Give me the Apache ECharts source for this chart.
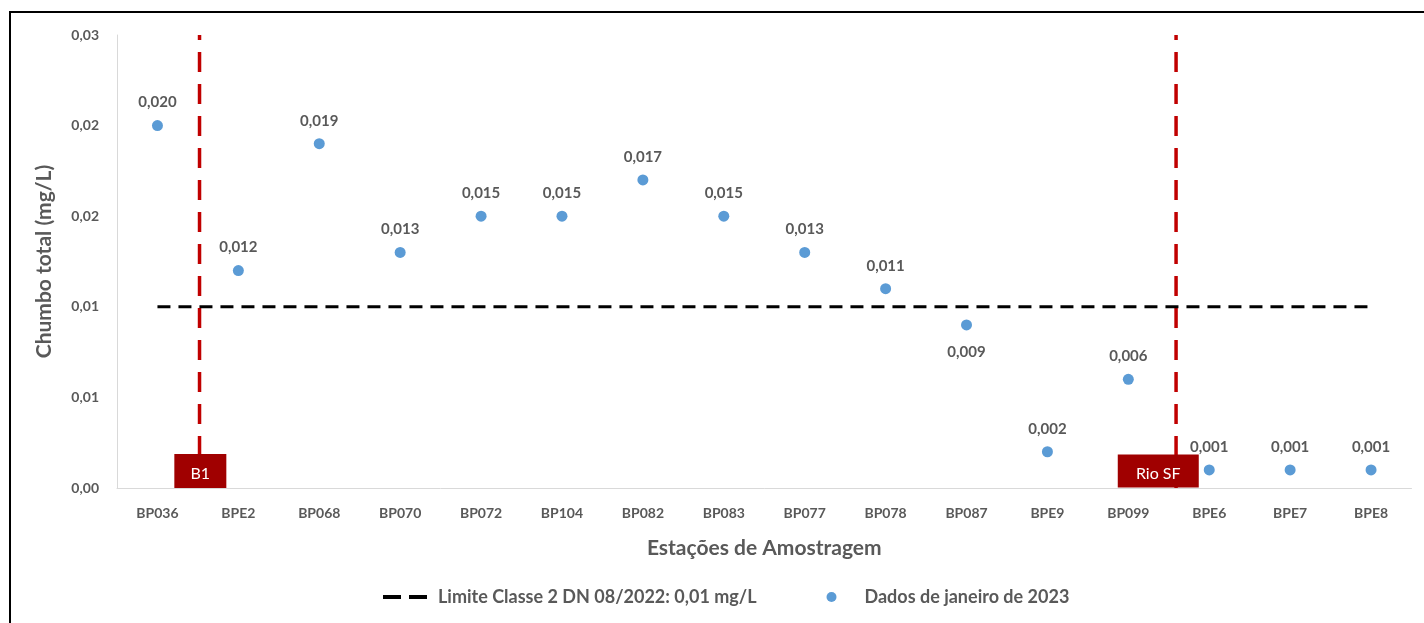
<!DOCTYPE html>
<html><head><meta charset="utf-8">
<script src="https://cdn.jsdelivr.net/npm/echarts@6/dist/echarts.min.js"></script>
<style>html,body{margin:0;padding:0;background:#fff}#c{width:1424px;height:623px}</style>
</head><body><div id="c"></div>
<script>
const categories = ['BP036','BPE2','BP068','BP070','BP072','BP104','BP082','BP083','BP077','BP078','BP087','BPE9','BP099','BPE6','BPE7','BPE8'];
const values = [0.020,0.012,0.019,0.013,0.015,0.015,0.017,0.015,0.013,0.011,0.009,0.002,0.006,0.001,0.001,0.001];
const limitValue = 0.01;
const yTicks = [0,0.005,0.01,0.015,0.02,0.025];
const yTickLabels = ['0,00','0,01','0,01','0,02','0,02','0,03'];
const dividerNames = ['B1','Rio SF'];
const dividerPos = [1.02, 13.09];      // boundaries on 0..16 scale
const boxPos = [1.03, 12.87];
const labelBelow = ['BP087'];

const FONT = 'Lato, "Open Sans", sans-serif';
const GRAY = '#595959';
const chart = echarts.init(document.getElementById('c'));
const fmt = v => v.toFixed(3).replace('.', ',');
const LIMIT_NAME = 'Limite Classe 2 DN 08/2022: 0,01 mg/L';
const DATA_NAME = 'Dados de janeiro de 2023';

const series = [
  {
    name: LIMIT_NAME, type: 'line',
    data: categories.map(() => limitValue),
    symbol: 'none', showSymbol: false,
    lineStyle: {color: '#000', width: 3, type: [13, 8]},
    itemStyle: {color: '#000'}, z: 3, silent: true
  },
  {
    name: DATA_NAME, type: 'scatter',
    data: values.map((v, i) => {
      const below = labelBelow.includes(categories[i]);
      return {
        value: v,
        label: {show: true, position: below ? 'bottom' : 'top', distance: below ? 14 : 10,
          formatter: p => fmt(p.value), color: GRAY, fontWeight: 'bold', fontSize: 15, fontFamily: FONT}
      };
    }),
    symbolSize: 11,
    itemStyle: {color: '#5B9BD5', opacity: 1},
    label: {show: true, color: GRAY, fontWeight: 'bold', fontSize: 15, fontFamily: FONT},
    z: 4
  }
];
dividerPos.forEach((x, i) => {
  series.push({
    name: 'div' + i, type: 'line', xAxisIndex: 1,
    data: [[x, 0], [x, 0.025]], symbol: 'none',
    lineStyle: {color: '#C00000', width: 3.5, type: [20, 12]}, z: 2, silent: true
  });
});
series.push({
  name: 'boxes', type: 'scatter', xAxisIndex: 1,
  data: boxPos.map((x, i) => ({value: [x, 0.00094], name: dividerNames[i],
    symbolSize: i === 0 ? [52, 34] : [81, 33]})),
  symbol: 'rect',
  itemStyle: {color: '#A00000', opacity: 1},
  label: {show: true, position: 'inside', formatter: p => p.name, color: '#fff', fontSize: 16, fontFamily: FONT, offset: [0, 3]},
  z: 5, silent: true
});

chart.setOption({
  animation: false,
  textStyle: {fontFamily: FONT},
  grid: {left: 117, right: 12.5, top: 35, bottom: 135},
  graphic: [{type: 'rect', shape: {x: 10, y: 12, width: 1430, height: 640},
    style: {fill: 'none', stroke: '#000', lineWidth: 2}, z: 100, silent: true}],
  legend: {
    data: [
      {name: LIMIT_NAME, icon: 'path://M0,0 H18 V4 H0 Z M26,0 H44 V4 H26 Z'},
      {name: DATA_NAME, icon: 'circle'}
    ],
    bottom: 12, left: 378, itemGap: 70, itemWidth: 44, itemHeight: 10,
    textStyle: {color: GRAY, fontWeight: 'bold', fontSize: 18, fontFamily: FONT, padding: [0, 0, 0, 6]}
  },
  xAxis: [{
    type: 'category', data: categories,
    name: 'Estações de Amostragem', nameLocation: 'middle', nameGap: 50,
    nameTextStyle: {color: GRAY, fontWeight: 'bold', fontSize: 21, fontFamily: FONT},
    axisLine: {lineStyle: {color: '#D9D9D9', width: 1}},
    axisTick: {show: false},
    axisLabel: {color: GRAY, fontWeight: 'bold', fontSize: 14, margin: 18, fontFamily: FONT}
  }, {
    type: 'value', min: 0, max: 16, show: false
  }],
  yAxis: {
    type: 'value', min: 0, max: 0.025, interval: 0.005,
    name: 'Chumbo total (mg/L)', nameLocation: 'middle', nameGap: 62,
    nameTextStyle: {color: GRAY, fontWeight: 'bold', fontSize: 21, fontFamily: FONT},
    axisLine: {show: true, lineStyle: {color: '#D9D9D9', width: 1}},
    axisTick: {show: false},
    splitLine: {show: false},
    axisLabel: {color: GRAY, fontWeight: 'bold', fontSize: 14, margin: 18, fontFamily: FONT,
      formatter: v => { const k = yTicks.findIndex(t => Math.abs(t - v) < 1e-9); return k >= 0 ? yTickLabels[k] : ''; }}
  },
  series: series
});
</script></body></html>
